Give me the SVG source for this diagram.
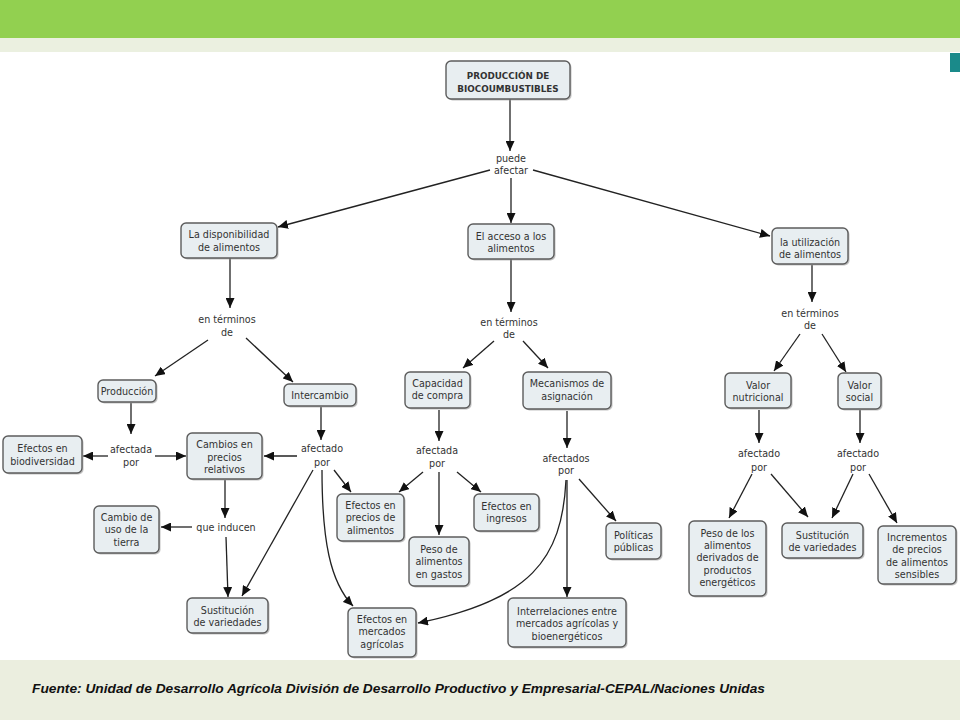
<svg xmlns="http://www.w3.org/2000/svg" width="960" height="720" viewBox="0 0 960 720">
<style>
.box{fill:#E8EEF1;stroke:#5c5c5c;stroke-width:1.4}
.sh{fill:#9a9a9a;opacity:0.6}
.t{font-family:"DejaVu Sans",Verdana,sans-serif;font-size:9.6px;fill:#333;text-anchor:middle}
.tb{font-family:"DejaVu Sans",Verdana,sans-serif;font-size:8.8px;font-weight:bold;fill:#333;text-anchor:middle}
.c{fill:none;stroke:#222;stroke-width:1.3;marker-end:url(#ah)}
.foot{font-family:"Liberation Sans",Arial,sans-serif;font-size:12.5px;font-weight:bold;font-style:italic;fill:#111}
</style>
<defs>
<marker id="ah" markerUnits="userSpaceOnUse" markerWidth="11" markerHeight="9" refX="10" refY="4.5" orient="auto">
<path d="M0,0 L10,4.5 L0,9 z" fill="#111"/>
</marker>
</defs>
<rect x="0" y="0" width="960" height="720" fill="#ffffff"/>
<rect x="0" y="0" width="960" height="38" fill="#92D050"/>
<rect x="0" y="38" width="960" height="14" fill="#EBF0E0"/>
<rect x="0" y="660" width="960" height="60" fill="#EBEEDF"/>
<rect x="950" y="53" width="10" height="19" fill="#1A8A8A"/>

<g id="connectors">
<path class="c" d="M510,99 L510,151"/>
<path class="c" d="M490,170 L278,227"/>
<path class="c" d="M511,178 L511,223"/>
<path class="c" d="M533,170 L770,236"/>
<path class="c" d="M230,258 L230,308"/>
<path class="c" d="M208,340 L155,376"/>
<path class="c" d="M246,338 L293,382"/>
<path class="c" d="M511,259 L511,312"/>
<path class="c" d="M494,341 L463,368"/>
<path class="c" d="M523,341 L548,368"/>
<path class="c" d="M812,265 L812,302"/>
<path class="c" d="M800,334 L774,371"/>
<path class="c" d="M822,334 L846,372"/>
<path class="c" d="M131,403 L131,434"/>
<path class="c" d="M108,456 L83,456"/>
<path class="c" d="M155,456 L186,456"/>
<path class="c" d="M321,407 L321,440"/>
<path class="c" d="M297,456 L264,456"/>
<path class="c" d="M225,480 L225,518"/>
<path class="c" d="M192,527 L161,527"/>
<path class="c" d="M226,537 L228,597"/>
<path class="c" d="M313,470 L242,596"/>
<path class="c" d="M334,470 L351,492"/>
<path class="c" d="M322,470 C322,540 330,582 353,606"/>
<path class="c" d="M439,410 L439,441"/>
<path class="c" d="M423,472 L399,492"/>
<path class="c" d="M439,472 L439,535"/>
<path class="c" d="M457,472 L481,492"/>
<path class="c" d="M567,411 L567,448"/>
<path class="c" d="M579,479 L616,521"/>
<path class="c" d="M567,480 L567,597"/>
<path class="c" d="M566,480 C562,560 530,600 418,623"/>
<path class="c" d="M759,410 L759,443"/>
<path class="c" d="M860,410 L860,443"/>
<path class="c" d="M752,474 L729,518"/>
<path class="c" d="M771,474 L808,517"/>
<path class="c" d="M853,474 L832,518"/>
<path class="c" d="M869,474 L897,523"/>
</g>

<g id="n1"><rect class="sh" x="447.5" y="62.5" width="124" height="38" rx="5"/><rect class="box" x="446" y="61" width="124" height="38" rx="5"/>
<text class="tb" x="508" y="79">PRODUCCIÓN DE</text><text class="tb" x="508" y="92">BIOCOUMBUSTIBLES</text></g>

<g id="l1"><text class="t" x="511" y="161.5">puede</text><text class="t" x="511" y="173.5">afectar</text></g>

<g id="n2"><rect class="sh" x="182.5" y="224.5" width="96" height="35" rx="5"/><rect class="box" x="181" y="223" width="96" height="35" rx="5"/>
<text class="t" x="229" y="238">La disponibilidad</text><text class="t" x="229" y="250.5">de alimentos</text></g>

<g id="n3"><rect class="sh" x="469.5" y="225.5" width="86" height="35" rx="5"/><rect class="box" x="468" y="224" width="86" height="35" rx="5"/>
<text class="t" x="511" y="239.5">El acceso a los</text><text class="t" x="511" y="251.5">alimentos</text></g>

<g id="n4"><rect class="sh" x="773.5" y="229.5" width="76" height="36" rx="5"/><rect class="box" x="772" y="228" width="76" height="36" rx="5"/>
<text class="t" x="810" y="245.5">la utilización</text><text class="t" x="810" y="257.5">de alimentos</text></g>

<g id="l2"><text class="t" x="227" y="322.5">en términos</text><text class="t" x="227" y="335.5">de</text></g>
<g id="l3"><text class="t" x="509" y="325.5">en términos</text><text class="t" x="509" y="337.5">de</text></g>
<g id="l4"><text class="t" x="810" y="316.5">en términos</text><text class="t" x="810" y="328.5">de</text></g>

<g id="n5"><rect class="sh" x="99.5" y="381.5" width="58" height="22" rx="5"/><rect class="box" x="98" y="380" width="58" height="22" rx="5"/>
<text class="t" x="127" y="394.5">Producción</text></g>

<g id="n6"><rect class="sh" x="285.5" y="385.5" width="72" height="22" rx="5"/><rect class="box" x="284" y="384" width="72" height="22" rx="5"/>
<text class="t" x="320" y="398.5">Intercambio</text></g>

<g id="n7"><rect class="sh" x="406.5" y="373.5" width="65" height="36" rx="5"/><rect class="box" x="405" y="372" width="65" height="36" rx="5"/>
<text class="t" x="437.5" y="386.5">Capacidad</text><text class="t" x="437.5" y="398.5">de compra</text></g>

<g id="n8"><rect class="sh" x="524.5" y="373.5" width="88" height="37" rx="5"/><rect class="box" x="523" y="372" width="88" height="37" rx="5"/>
<text class="t" x="567" y="386.5">Mecanismos de</text><text class="t" x="567" y="399.5">asignación</text></g>

<g id="n9"><rect class="sh" x="726.5" y="374.5" width="66" height="35" rx="5"/><rect class="box" x="725" y="373" width="66" height="35" rx="5"/>
<text class="t" x="758" y="388.5">Valor</text><text class="t" x="758" y="400.5">nutricional</text></g>

<g id="n10"><rect class="sh" x="839.5" y="374.5" width="43" height="36" rx="5"/><rect class="box" x="838" y="373" width="43" height="36" rx="5"/>
<text class="t" x="859.5" y="388.5">Valor</text><text class="t" x="859.5" y="400.5">social</text></g>

<g id="l5"><text class="t" x="131" y="452.5">afectada</text><text class="t" x="131" y="465.5">por</text></g>
<g id="l6"><text class="t" x="322" y="451.5">afectado</text><text class="t" x="322" y="465.5">por</text></g>
<g id="l7"><text class="t" x="437" y="453.5">afectada</text><text class="t" x="437" y="466.5">por</text></g>
<g id="l8"><text class="t" x="566" y="461.5">afectados</text><text class="t" x="566" y="473.5">por</text></g>
<g id="l9"><text class="t" x="759" y="456.5">afectado</text><text class="t" x="759" y="470.5">por</text></g>
<g id="l10"><text class="t" x="858" y="456.5">afectado</text><text class="t" x="858" y="470.5">por</text></g>

<g id="n11"><rect class="sh" x="4.5" y="437.5" width="79" height="37" rx="5"/><rect class="box" x="3" y="436" width="79" height="37" rx="5"/>
<text class="t" x="42.5" y="451.5">Efectos en</text><text class="t" x="42.5" y="464.5">biodiversidad</text></g>

<g id="n12"><rect class="sh" x="188.5" y="434.5" width="75" height="46" rx="5"/><rect class="box" x="187" y="433" width="75" height="46" rx="5"/>
<text class="t" x="224.5" y="447.5">Cambios en</text><text class="t" x="224.5" y="460.5">precios</text><text class="t" x="224.5" y="473">relativos</text></g>

<g id="l11"><text class="t" x="226" y="530.5">que inducen</text></g>

<g id="n13"><rect class="sh" x="95.5" y="507.5" width="65" height="47" rx="5"/><rect class="box" x="94" y="506" width="65" height="47" rx="5"/>
<text class="t" x="126.5" y="520.5">Cambio de</text><text class="t" x="126.5" y="533">uso de la</text><text class="t" x="126.5" y="545.5">tierra</text></g>

<g id="n14"><rect class="sh" x="188.5" y="599.5" width="81" height="35" rx="5"/><rect class="box" x="187" y="598" width="81" height="35" rx="5"/>
<text class="t" x="227.5" y="613.5">Sustitución</text><text class="t" x="227.5" y="626">de variedades</text></g>

<g id="n15"><rect class="sh" x="338.5" y="495.5" width="67" height="47" rx="5"/><rect class="box" x="337" y="494" width="67" height="47" rx="5"/>
<text class="t" x="370.5" y="508.5">Efectos en</text><text class="t" x="370.5" y="521">precios de</text><text class="t" x="370.5" y="533.5">alimentos</text></g>

<g id="n16"><rect class="sh" x="349.5" y="609.5" width="68" height="49" rx="5"/><rect class="box" x="348" y="608" width="68" height="49" rx="5"/>
<text class="t" x="382" y="622.5">Efectos en</text><text class="t" x="382" y="635">mercados</text><text class="t" x="382" y="647.5">agrícolas</text></g>

<g id="n17"><rect class="sh" x="475.5" y="495.5" width="65" height="37" rx="5"/><rect class="box" x="474" y="494" width="65" height="37" rx="5"/>
<text class="t" x="506.5" y="509.5">Efectos en</text><text class="t" x="506.5" y="521.5">ingresos</text></g>

<g id="n18"><rect class="sh" x="410.5" y="538.5" width="60" height="49" rx="5"/><rect class="box" x="409" y="537" width="60" height="49" rx="5"/>
<text class="t" x="439" y="552.5">Peso de</text><text class="t" x="439" y="565">alimentos</text><text class="t" x="439" y="577.5">en gastos</text></g>

<g id="n19"><rect class="sh" x="607.5" y="524.5" width="55" height="36" rx="5"/><rect class="box" x="606" y="523" width="55" height="36" rx="5"/>
<text class="t" x="633.5" y="538.5">Políticas</text><text class="t" x="633.5" y="551">públicas</text></g>

<g id="n20"><rect class="sh" x="509.5" y="599.5" width="118" height="49" rx="5"/><rect class="box" x="508" y="598" width="118" height="49" rx="5"/>
<text class="t" x="567" y="614.5">Interrelaciones entre</text><text class="t" x="567" y="627">mercados agrícolas y</text><text class="t" x="567" y="639.5">bioenergéticos</text></g>

<g id="n21"><rect class="sh" x="690.5" y="522.5" width="77" height="75" rx="5"/><rect class="box" x="689" y="521" width="77" height="75" rx="5"/>
<text class="t" x="727.5" y="536.5">Peso de los</text><text class="t" x="727.5" y="548.5">alimentos</text><text class="t" x="727.5" y="561">derivados de</text><text class="t" x="727.5" y="573.5">productos</text><text class="t" x="727.5" y="585.5">energéticos</text></g>

<g id="n22"><rect class="sh" x="783.5" y="524.5" width="81" height="35" rx="5"/><rect class="box" x="782" y="523" width="81" height="35" rx="5"/>
<text class="t" x="822.5" y="538.5">Sustitución</text><text class="t" x="822.5" y="551">de variedades</text></g>

<g id="n23"><rect class="sh" x="879.5" y="527.5" width="78" height="58" rx="5"/><rect class="box" x="878" y="526" width="78" height="58" rx="5"/>
<text class="t" x="917" y="540.5">Incrementos</text><text class="t" x="917" y="553">de precios</text><text class="t" x="917" y="565.5">de alimentos</text><text class="t" x="917" y="578">sensibles</text></g>

<text class="foot" x="32" y="693" textLength="733" lengthAdjust="spacingAndGlyphs">Fuente: Unidad de Desarrollo Agrícola División de Desarrollo Productivo y Empresarial-CEPAL/Naciones Unidas</text>
</svg>
